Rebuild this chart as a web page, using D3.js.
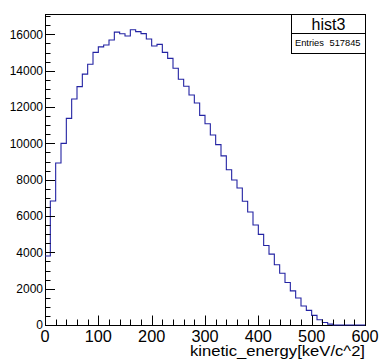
<!DOCTYPE html>
<html>
<head>
<meta charset="utf-8">
<script src="https://cdn.jsdelivr.net/npm/d3@7"></script>
<style>
  html, body { margin: 0; padding: 0; background: #fff; }
  svg { display: block; }
  text { font-family: "Liberation Sans", Arial, Helvetica, sans-serif; fill: #000; }
</style>
</head>
<body>
<svg id="chart" width="379" height="360"></svg>
<script>
// ---- data ----
const histName = "hist3";
const entries = "517845";
const xTitle = "kinetic_energy[keV/c^2]";
const binLow = 0;
const binWidth = 10;
// bin contents (10 keV bins starting at 0)
const counts = [
  3800, 6825, 8920, 10000, 11375, 12440, 13120, 13810, 14350, 15010,
  15310, 15410, 15690, 16120, 16030, 15910, 16255, 16150, 16040, 15745,
  15360, 15450, 15010, 14680, 14130, 13530, 13140, 12660, 12220, 11540,
  11080, 10460, 9930, 9310, 8550, 7980, 7540, 6810, 6220, 5505,
  4990, 4380, 3900, 3320, 2845, 2340, 1880, 1485, 1045, 805,
  530, 290, 140, 50, 0, 0, 0, 0, 0, 0
];
const xMajorTicks = [0, 100, 200, 300, 400, 500, 600];
const yMajorTicks = [0, 2000, 4000, 6000, 8000, 10000, 12000, 14000, 16000];

(function () {
// ---- layout ----
const pL = 45, pR = 365, pT = 14, pB = 325;
const svg = d3.select("#chart");

const x = d3.scaleLinear().domain([0, 600]).range([pL, pR]);
const y = d3.scaleLinear().domain([0, 17120]).range([pB, pT]);

// frame
svg.append("rect")
  .attr("x", pL + 0.5).attr("y", pT + 0.5)
  .attr("width", pR - pL).attr("height", pB - pT)
  .attr("fill", "none").attr("stroke", "#000").attr("stroke-width", 1);

// histogram step path
const pts = [];
counts.forEach((c, i) => {
  const x0 = binLow + i * binWidth, x1 = x0 + binWidth;
  pts.push([x0, c]); pts.push([x1, c]);
});
const line = d3.line().x(d => x(d[0])).y(d => y(d[1]));
svg.append("path")
  .attr("d", line(pts))
  .attr("fill", "none")
  .attr("stroke", "#2323a3")
  .attr("stroke-width", 1.1);

// x axis ticks
const xMinor = d3.range(0, 601, 20);
const xg = svg.append("g");
xg.selectAll("line").data(xMinor).enter().append("line")
  .attr("x1", d => Math.round(x(d)) + 0.5).attr("x2", d => Math.round(x(d)) + 0.5)
  .attr("y1", pB).attr("y2", d => xMajorTicks.includes(d) ? pB - 9.5 : pB - 5.5)
  .attr("stroke", "#000").attr("stroke-width", 1);
xg.selectAll("text").data(xMajorTicks).enter().append("text")
  .attr("x", d => x(d)).attr("y", 341.8)
  .attr("text-anchor", "middle")
  .style("font-size", "16.3px")
  .text(d => d);

// y axis ticks
const yMinor = d3.range(0, 17001, 500);
const yg = svg.append("g");
yg.selectAll("line").data(yMinor).enter().append("line")
  .attr("x1", pL).attr("x2", d => yMajorTicks.includes(d) ? pL + 10 : pL + 5.5)
  .attr("y1", d => Math.round(y(d)) + 0.5).attr("y2", d => Math.round(y(d)) + 0.5)
  .attr("stroke", "#000").attr("stroke-width", 1);
yg.selectAll("text").data(yMajorTicks).enter().append("text")
  .attr("x", pL - 2).attr("y", d => y(d) + 4.3)
  .attr("text-anchor", "end")
  .style("font-size", "12px")
  .text(d => d);

// x-axis title
svg.append("text")
  .attr("x", pR).attr("y", 355.8)
  .attr("text-anchor", "end")
  .attr("textLength", 175).attr("lengthAdjust", "spacingAndGlyphs")
  .style("font-size", "14.5px")
  .text(xTitle);

// stats box
const bx0 = 291.5, bx1 = pR + 0.5, by0 = pT + 0.5, by1 = 53.5, bmid = 33.5;
svg.append("rect")
  .attr("x", bx0).attr("y", by0).attr("width", bx1 - bx0).attr("height", by1 - by0)
  .attr("fill", "#fff").attr("stroke", "#000").attr("stroke-width", 1);
svg.append("line")
  .attr("x1", bx0).attr("x2", bx1).attr("y1", bmid).attr("y2", bmid)
  .attr("stroke", "#000").attr("stroke-width", 1);
svg.append("text")
  .attr("x", (bx0 + bx1) / 2).attr("y", 30)
  .attr("text-anchor", "middle")
  .style("font-size", "16px")
  .text(histName);
svg.append("text")
  .attr("x", 295).attr("y", 46.3)
  .style("font-size", "9.3px")
  .text("Entries");
svg.append("text")
  .attr("x", 360.5).attr("y", 46.3)
  .attr("text-anchor", "end")
  .style("font-size", "9.3px")
  .text(entries);
})();
</script>
</body>
</html>
